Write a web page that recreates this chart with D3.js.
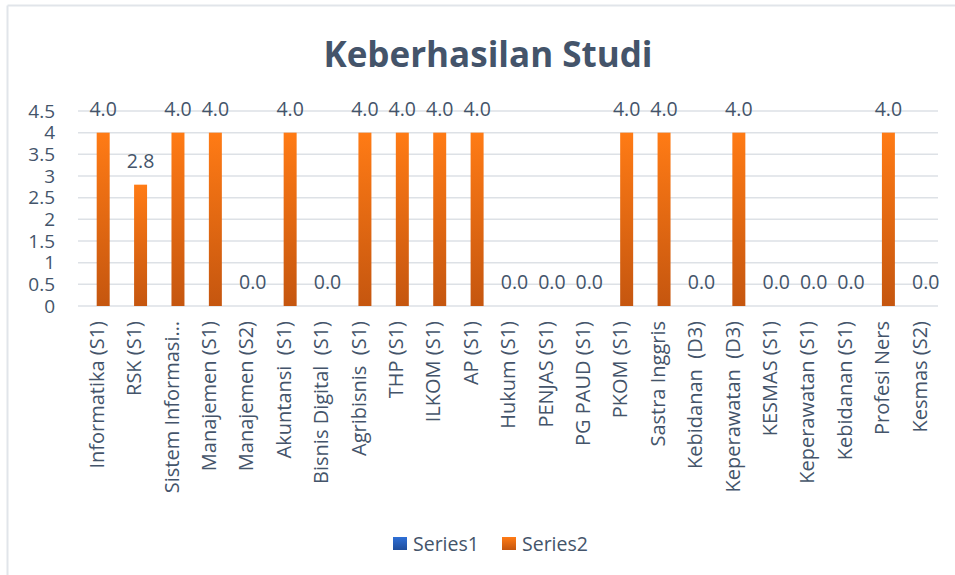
<!DOCTYPE html>
<html>
<head>
<meta charset="utf-8">
<script src="https://cdn.jsdelivr.net/npm/d3@7"></script>
<style>
  body { margin: 0; background: #fff; }
  text { font-family: "Open Sans", sans-serif; fill: #44546A; }
</style>
</head>
<body>
<script>
var categories = ["Informatika (S1)", "RSK (S1)", "Sistem Informasi\u2026", "Manajemen (S1)", "Manajemen (S2)",
  "Akuntansi  (S1)", "Bisnis Digital  (S1)", "Agribisnis  (S1)", "THP (S1)", "ILKOM (S1)", "AP (S1)",
  "Hukum (S1)", "PENJAS (S1)", "PG PAUD (S1)", "PKOM (S1)", "Sastra Inggris", "Kebidanan  (D3)",
  "Keperawatan  (D3)", "KESMAS (S1)", "Keperawatan (S1)", "Kebidanan (S1)", "Profesi Ners", "Kesmas (S2)"];
var series1 = [0, 0, 0, 0, 0, 0, 0, 0, 0, 0, 0, 0, 0, 0, 0, 0, 0, 0, 0, 0, 0, 0, 0];
var series2 = [4, 2.8, 4, 4, 0, 4, 0, 4, 4, 4, 4, 0, 0, 0, 4, 4, 0, 4, 0, 0, 0, 4, 0];
var seriesNames = ["Series1", "Series2"];
var yTicks = [0, 0.5, 1, 1.5, 2, 2.5, 3, 3.5, 4, 4.5];

var W = 955, H = 575;
var svg = d3.select("body").append("svg").attr("width", W).attr("height", H);

var defs = svg.append("defs");
var g1 = defs.append("linearGradient").attr("id", "gBlue").attr("x1", 0).attr("y1", 0).attr("x2", 0).attr("y2", 1);
g1.append("stop").attr("offset", "0%").attr("stop-color", "#2F6FD6");
g1.append("stop").attr("offset", "100%").attr("stop-color", "#1F4E9C");
var g2 = defs.append("linearGradient").attr("id", "gOrange").attr("x1", 0).attr("y1", 0).attr("x2", 0).attr("y2", 1);
g2.append("stop").attr("offset", "0%").attr("stop-color", "#FF7B15");
g2.append("stop").attr("offset", "100%").attr("stop-color", "#C5560F");

// frame (only top and left edges visible in the crop)
svg.append("line").attr("x1", 7.5).attr("y1", 5.5).attr("x2", 955).attr("y2", 5.5)
  .attr("stroke", "#E1E5EA").attr("stroke-width", 2);
svg.append("line").attr("x1", 7.5).attr("y1", 5.5).attr("x2", 7.5).attr("y2", 575)
  .attr("stroke", "#E1E5EA").attr("stroke-width", 2);

svg.append("text").attr("x", 488).attr("y", 67).attr("text-anchor", "middle")
  .style("font-weight", "bold").style("font-size", "35px")
  .text("Keberhasilan Studi");

var x = d3.scaleBand().domain(categories).range([78, 938]);
var xs = d3.scaleBand().domain(seriesNames).range([0, x.bandwidth()]).paddingOuter(0.44);
var y = d3.scaleLinear().domain([0, 4.5]).range([306, 111]);

// gridlines
svg.append("g").selectAll("line").data(yTicks).enter().append("line")
  .attr("x1", 78).attr("x2", 938)
  .attr("y1", function (d) { return y(d); }).attr("y2", function (d) { return y(d); })
  .attr("stroke", "#DDE1E6").attr("stroke-width", 1.5);

// y axis labels
var yAxis = d3.axisLeft(y).tickValues(yTicks).tickSize(0).tickPadding(0).tickFormat(d3.format("~g"));
var ya = svg.append("g").attr("transform", "translate(55,0)").call(yAxis);
ya.select(".domain").remove();
ya.selectAll("text").style("font-size", "19px").style("font-family", "'Open Sans', sans-serif").attr("fill", "#44546A");

// bars
var data = categories.map(function (c, i) { return { cat: c, Series1: series1[i], Series2: series2[i] }; });
var groups = svg.append("g").selectAll("g").data(data).enter().append("g")
  .attr("transform", function (d) { return "translate(" + x(d.cat) + ",0)"; });
groups.selectAll("rect").data(function (d) {
  return seriesNames.map(function (s) { return { s: s, v: d[s] }; });
}).enter().append("rect")
  .attr("x", function (d) { return xs(d.s); })
  .attr("width", xs.bandwidth())
  .attr("y", function (d) { return y(d.v); })
  .attr("height", function (d) { return y(0) - y(d.v); })
  .attr("fill", function (d) { return d.s === "Series1" ? "url(#gBlue)" : "url(#gOrange)"; });

// data labels for Series2
groups.append("text")
  .attr("x", function (d) { return xs("Series2") + xs.bandwidth() / 2; })
  .attr("y", function (d) { return y(d.Series2) - 17; })
  .attr("text-anchor", "middle")
  .style("font-size", "19.5px")
  .text(function (d) { return d.Series2.toFixed(1); });

// category labels
svg.append("g").selectAll("text").data(categories).enter().append("text")
  .attr("transform", function (d) { return "translate(" + (x(d) + x.bandwidth() / 2) + ",321) rotate(-90)"; })
  .attr("text-anchor", "end").attr("dy", "0.36em")
  .style("font-size", "20px").style("white-space", "pre")
  .text(function (d) { return d; });

// legend
var legend = svg.append("g").selectAll("g").data(seriesNames).enter().append("g")
  .attr("transform", function (d, i) { return "translate(" + (393 + i * 109) + ",537)"; });
legend.append("rect").attr("width", 14).attr("height", 13)
  .attr("fill", function (d) { return d === "Series1" ? "url(#gBlue)" : "url(#gOrange)"; });
legend.append("text").attr("x", 20).attr("y", 14).style("font-size", "19.5px").text(function (d) { return d; });
</script>
</body>
</html>
